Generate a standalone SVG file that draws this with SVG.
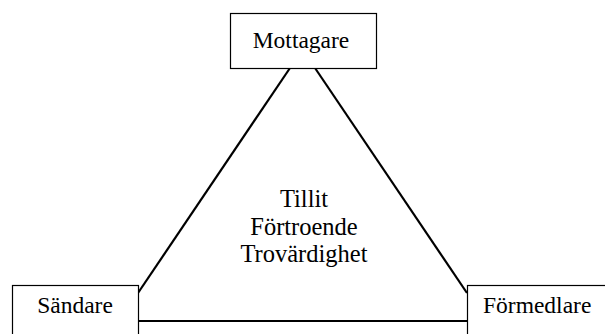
<svg xmlns="http://www.w3.org/2000/svg" width="605" height="334" viewBox="0 0 605 334">
<style>
.box{fill:#fff;stroke:#000;stroke-width:1.2}
.t{font-family:"Liberation Serif","Times New Roman",serif;font-size:23.5px;fill:#000}
.m{font-size:24.5px;text-anchor:middle}
.c{stroke:#000;stroke-width:2.2;fill:none}
</style>
<rect width="605" height="334" fill="#fff"/>
<g id="connectors">
<line class="c" x1="290" y1="68" x2="138" y2="293"/>
<line class="c" x1="315" y1="68" x2="467" y2="293"/>
<line class="c" x1="138" y1="321" x2="467" y2="321"/>
</g>
<g id="mottagare">
<rect class="box" x="230.5" y="13.5" width="146" height="55"/>
<text class="t" x="301" y="48" text-anchor="middle">Mottagare</text>
</g>
<g id="sandare">
<rect class="box" x="12.5" y="285.5" width="126" height="60"/>
<text class="t" x="75" y="313" text-anchor="middle">Sändare</text>
</g>
<g id="formedlare">
<rect class="box" x="467.5" y="285.5" width="150" height="60"/>
<text class="t" x="483" y="313">Förmedlare</text>
</g>
<g id="center">
<text class="t m" x="304" y="207">Tillit</text>
<text class="t m" x="304" y="235">Förtroende</text>
<text class="t m" x="304" y="262">Trovärdighet</text>
</g>
</svg>
